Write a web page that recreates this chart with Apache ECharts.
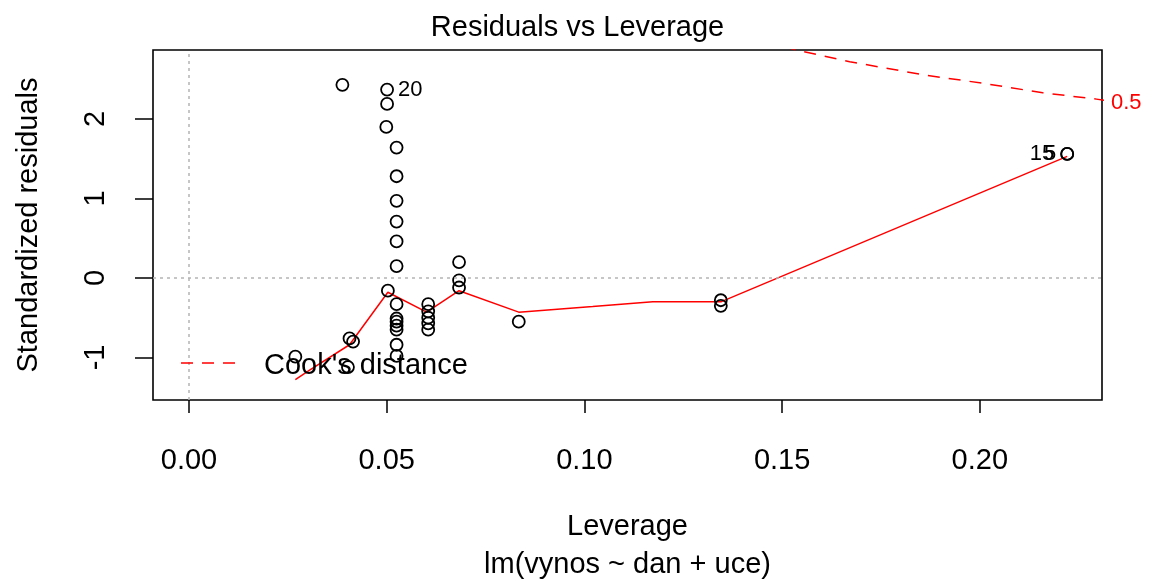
<!DOCTYPE html>
<html>
<head>
<meta charset="utf-8">
<script src="https://cdn.jsdelivr.net/npm/echarts@6/dist/echarts.min.js"></script>
<style>
html,body{margin:0;padding:0;background:#fff;}
#c{width:1155px;height:582px;}
</style>
</head>
<body>
<div id="c"></div>
<script>
// Leverage (x) and standardized residuals (y) of observations
const leverage = [0.0388,0.0501,0.0501,0.0499,0.0525,0.0525,0.0525,0.0525,0.0525,0.0525,
  0.0503,0.0525,0.0525,0.0525,0.0525,0.0525,0.0525,0.0525,
  0.0605,0.0605,0.0605,0.0605,0.0605,
  0.0683,0.0683,0.0683,0.0834,0.1345,0.1345,0.2221,0.2221,
  0.0269,0.0406,0.0415,0.0402];
const stdResid = [2.43,2.37,2.19,1.90,1.64,1.28,0.97,0.71,0.46,0.15,
  -0.16,-0.33,-0.51,-0.55,-0.60,-0.65,-0.84,-0.98,
  -0.33,-0.42,-0.50,-0.57,-0.65,
  0.20,-0.03,-0.12,-0.55,-0.28,-0.35,1.56,1.56,
  -0.99,-0.76,-0.80,-1.12];
// labelled observations: index in arrays -> id text
const idIndex = [1, 29, 30];
const idText = ['20', '15', '5'];
// smoother (red line)
const smoothX = [0.0269,0.0305,0.0406,0.0503,0.0601,0.0683,0.0834,0.1021,0.1173,0.1345,0.2221];
const smoothY = [-1.28,-1.16,-0.84,-0.18,-0.43,-0.16,-0.43,-0.36,-0.30,-0.30,1.53];
// Cook's distance 0.5 contour
const cookX = [0.1505,0.1528,0.1671,0.1865,0.2007,0.2159,0.2295,0.2320];
const cookY = [2.92,2.877,2.72,2.55,2.45,2.33,2.25,2.23];
const xTicks = [0, 0.05, 0.10, 0.15, 0.20];
const yTicks = [-1, 0, 1, 2];

const FONT = '"Liberation Sans", Arial, sans-serif';
const chart = echarts.init(document.getElementById('c'));

const pts = leverage.map((x, i) => {
  const k = idIndex.indexOf(i);
  const item = { value: [x, stdResid[i]] };
  if (k >= 0) {
    const right = idText[k] === '20';
    item.label = {
      show: true, formatter: idText[k], position: right ? 'right' : 'left',
      distance: right ? 4 : (idText[k] === '5' ? 4 : 6),
      fontSize: 22, color: '#000', fontFamily: FONT
    };
  }
  return item;
});

chart.setOption({
  animation: false,
  backgroundColor: '#fff',
  title: {
    text: 'Residuals vs Leverage', left: 'center', top: 8,
    textStyle: { fontSize: 29, fontWeight: 'normal', color: '#000', fontFamily: FONT }
  },
  grid: { left: 153, right: 53, top: 50, bottom: 182, show: true, borderColor: '#000', borderWidth: 1.6, backgroundColor: 'transparent' },
  xAxis: {
    type: 'value', min: -0.0091, max: 0.2309,
    name: 'Leverage', nameLocation: 'middle', nameGap: 112,
    nameTextStyle: { fontSize: 29, color: '#000', fontFamily: FONT },
    axisLine: { show: false, onZero: false },
    splitLine: { show: false },
    axisTick: { show: true, length: 13, inside: false, customValues: xTicks, lineStyle: { color: '#000', width: 1.5 } },
    axisLabel: { customValues: xTicks, margin: 46, fontSize: 29, color: '#000', fontFamily: FONT,
      formatter: v => v.toFixed(2) }
  },
  yAxis: {
    type: 'value', min: -1.535, max: 2.868,
    name: 'Standardized residuals', nameLocation: 'middle', nameGap: 110, nameRotate: 90,
    nameTextStyle: { fontSize: 29, color: '#000', fontFamily: FONT },
    axisLine: { show: false, onZero: false },
    splitLine: { show: false },
    axisTick: { show: true, length: 18, customValues: yTicks, lineStyle: { color: '#000', width: 1.5 } },
    axisLabel: { customValues: yTicks, rotate: 90, margin: 43, fontSize: 29, color: '#000', fontFamily: FONT }
  },
  series: [
    {
      type: 'line', data: cookX.map((x, i) => [x, cookY[i]]), showSymbol: false, symbol: 'none',
      lineStyle: { color: '#ff0000', width: 1.5, type: [12, 9] }, clip: true, silent: true, z: 2
    },
    {
      type: 'line', data: smoothX.map((x, i) => [x, smoothY[i]]), showSymbol: false, symbol: 'none',
      lineStyle: { color: '#ff0000', width: 1.5 }, silent: true, z: 3,
      markLine: {
        silent: true, symbol: 'none', label: { show: false },
        lineStyle: { color: '#b4b4b4', type: [3, 4], width: 1.5 },
        data: [{ xAxis: 0 }, { yAxis: 0 }]
      }
    },
    {
      type: 'scatter', data: pts, symbol: 'circle', symbolSize: 12,
      itemStyle: { color: 'rgba(0,0,0,0)', borderColor: '#000', borderWidth: 1.8, opacity: 1 }, z: 4
    }
  ],
  graphic: [
    { type: 'line', shape: { x1: 181, y1: 363, x2: 241, y2: 363 }, style: { stroke: '#ff0000', lineWidth: 1.5, lineDash: [12, 9] }, z: 10 },
    { type: 'text', x: 264, y: 366, style: { text: "Cook's distance", fontSize: 29, fill: '#000', fontFamily: FONT, verticalAlign: 'middle', align: 'left' }, z: 10 },
    { type: 'text', x: 1111, y: 103, style: { text: '0.5', fontSize: 22, fill: '#ff0000', fontFamily: FONT, verticalAlign: 'middle', align: 'left' }, z: 10 },
    { type: 'text', x: 627.5, y: 565, style: { text: 'lm(vynos ~ dan + uce)', fontSize: 29, fill: '#000', fontFamily: FONT, verticalAlign: 'middle', align: 'center' }, z: 10 }
  ]
});
</script>
</body>
</html>
